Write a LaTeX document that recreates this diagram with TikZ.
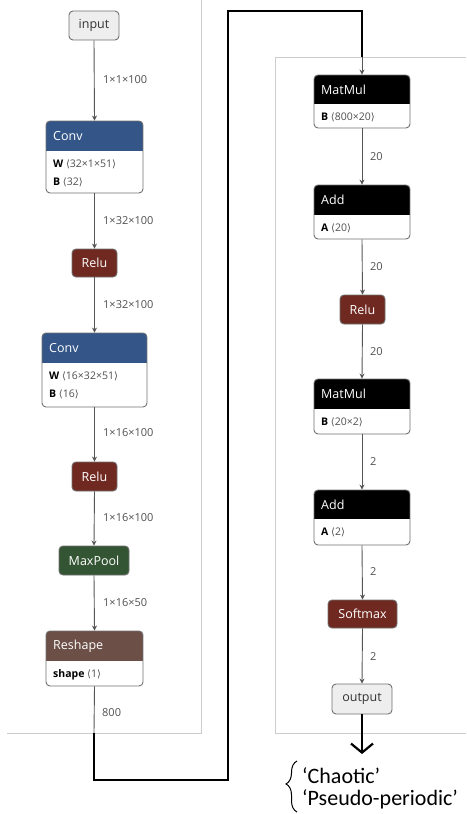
\documentclass[tikz,border=0pt]{standalone}
\usepackage{fontspec}
\setmainfont{Open Sans}
\newfontfamily\calfont{Carlito}
\newfontfamily\djv{DejaVu Sans}
\usetikzlibrary{arrows.meta,decorations.pathreplacing,fit}
\definecolor{convblue}{HTML}{335588}
\definecolor{actred}{HTML}{702921}
\definecolor{poolgreen}{HTML}{335533}
\definecolor{shapebrown}{HTML}{6C4F47}
\definecolor{ioface}{HTML}{EEEEEE}
\definecolor{bordergray}{HTML}{707070}
\definecolor{edgegray}{HTML}{555555}
\definecolor{labgray}{HTML}{505050}
\definecolor{panelgray}{HTML}{CCCCCC}
\newcommand\ang[1]{{\color{labgray}\djv\fontsize{10}{11}\selectfont ⟨}{\color{labgray}#1}{\color{labgray}\djv\fontsize{10}{11}\selectfont ⟩}}
\tikzset{
  panel/.style={draw=panelgray, line width=0.8pt},
  edge/.style={draw=edgegray, line width=0.9pt, -{Stealth[length=5pt,width=5pt]}},
  edgeplain/.style={draw=edgegray, line width=0.9pt},
  elab/.style={anchor=west, inner sep=0pt, text=labgray, font=\fontsize{11}{12}\selectfont},
  simple/.style={draw=bordergray, line width=0.9pt, rounded corners=4pt, text=white, inner sep=0pt, font=\fontsize{12.5}{14}\selectfont},
  ionode/.style={simple, fill=ioface, text=black!80},
  title/.style={anchor=west, inner sep=0pt, text=white, font=\fontsize{12.5}{14}\selectfont},
  bline/.style={anchor=west, inner sep=0pt, text=black, font=\fontsize{10.5}{12}\selectfont},
  thickconn/.style={draw=black, line width=2.6pt},
  clstext/.style={anchor=base west, inner sep=0pt, font=\calfont\fontsize{22}{24}\selectfont},
}
% name, x1, y1, x2, y2, ymid, color, title, body list key/val
\newcommand\blk[9]{%
  \coordinate (#1-nw) at (#2,#3);
  \coordinate (#1-se) at (#4,#5);
  \begin{scope}
    \clip[rounded corners=4pt] (#2,#3) rectangle (#4,#5);
    \fill[white] (#2,#3) rectangle (#4,#5);
    \fill[#7] (#2,#3) rectangle (#4,#6);
  \end{scope}
  \node[fit=(#1-nw)(#1-se), inner sep=0pt, draw=bordergray, line width=0.9pt, rounded corners=4pt] (#1) {};
  \node[title] (#1-t) at ({#2+7},{(#3+#6)/2}) {#8};
  \foreach \k/\v [count=\i from 0] in {#9} {
    \node[bline] (#1-l\i) at ({#2+7},{#6+13.5+17.5*\i}) {\textbf{\k} \ang{\v}};
  }
}
\begin{document}
\begin{tikzpicture}[x=1pt,y=-1pt]
\useasboundingbox (0,0) rectangle (466,814);
% panels
\draw[panel] (201,0) -- (201,733) -- (7,733);
\draw[panel] (466,57) -- (275,57) -- (275,733) -- (466,733);

% left column
\node[ionode, minimum width=50pt, minimum height=29pt] (input) at (94,25.5) {input};
\blk{conv1}{46}{121}{143}{193}{151}{convblue}{Conv}{W/32×1×51, B/32}
\node[simple, fill=actred, minimum width=45pt, minimum height=28pt] (relu1) at (94.5,263) {Relu};
\blk{conv2}{42}{333}{147}{407}{363}{convblue}{Conv}{W/16×32×51, B/16}
\node[simple, fill=actred, minimum width=45pt, minimum height=29pt] (relu2) at (94.5,476.5) {Relu};
\node[simple, fill=poolgreen, minimum width=70pt, minimum height=29pt] (maxpool) at (94,560.5) {MaxPool};
\blk{reshape}{46}{631}{143}{686}{661}{shapebrown}{Reshape}{shape/1}

\draw[edge] (input.south) -- (conv1.north);
\draw[edge] (conv1.south) -- (relu1.north);
\draw[edge] (relu1.south) -- (conv2.north);
\draw[edge] (conv2.south) -- (relu2.north);
\draw[edge] (relu2.south) -- (maxpool.north);
\draw[edge] (maxpool.south) -- (reshape.north);

\node[elab] (lab1) at (103,80) {1×1×100};
\node[elab] (lab2) at (103,221) {1×32×100};
\node[elab] (lab3) at (103,305) {1×32×100};
\node[elab] (lab4) at (103,433) {1×16×100};
\node[elab] (lab5) at (103,518) {1×16×100};
\node[elab] (lab6) at (103,603) {1×16×50};
\node[elab] (lab7) at (102,713) {800};

% right column
\blk{mm1}{314}{75}{410}{128}{104}{black}{MatMul}{B/800×20}
\blk{add1}{314}{185}{410}{239}{215}{black}{Add}{A/20}
\node[simple, fill=actred, minimum width=45pt, minimum height=29pt] (relu3) at (362.5,309.5) {Relu};
\blk{mm2}{314}{379}{410}{434}{409}{black}{MatMul}{B/20×2}
\blk{add2}{314}{490}{410}{545}{519}{black}{Add}{A/2}
\node[simple, fill=actred, minimum width=69pt, minimum height=28pt] (softmax) at (362.5,614) {Softmax};
\node[ionode, minimum width=60pt, minimum height=30pt] (output) at (362,699) {output};

\draw[edge] (mm1.south) -- (add1.north);
\draw[edge] (add1.south) -- (relu3.north);
\draw[edge] (relu3.south) -- (mm2.north);
\draw[edge] (mm2.south) -- (add2.north);
\draw[edge] (add2.south) -- (softmax.north);
\draw[edge] (softmax.south) -- (output.north);

\node[elab] (rlab1) at (370,157) {20};
\node[elab] (rlab2) at (370,267) {20};
\node[elab] (rlab3) at (370,352) {20};
\node[elab] (rlab4) at (370,462) {2};
\node[elab] (rlab5) at (370,572) {2};
\node[elab] (rlab6) at (370,657) {2};

% connector between columns
\coordinate (lexit) at (94,733);
\coordinate (turnA) at (228,780);
\coordinate (turnB) at (228,11);
\coordinate (rentry) at (362,57);
\draw[edgeplain] (reshape.south) -- (lexit);
\draw[thickconn] (lexit) |- (turnA) -- (turnB) -| (rentry);
\draw[edge] (rentry) -- (mm1.north);

% output arrow
\coordinate (outend) at (362,754);
\draw[thickconn, -{Straight Barb[length=9pt,width=22pt,line width=2.2pt]}] (output.south) -- (outend);

% classes
\draw[line width=1pt, decorate, decoration={brace, amplitude=11pt, aspect=0.55}] (297,812) -- (297,761);
\node[clstext] (cls1) at (302,783) {‘Chaotic’};
\node[clstext] (cls2) at (302,805) {‘Pseudo-periodic’};
\end{tikzpicture}
\end{document}
